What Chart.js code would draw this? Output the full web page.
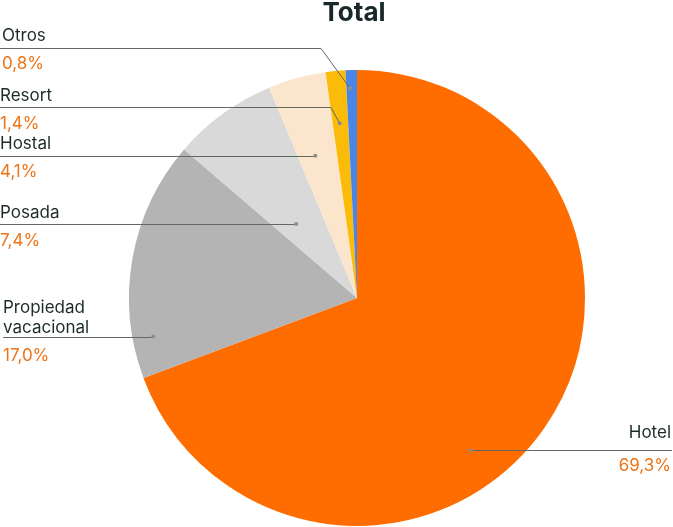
<!DOCTYPE html>
<html>
<head>
<meta charset="utf-8">
<script src="https://cdn.jsdelivr.net/npm/chart.js@4.4.1/dist/chart.umd.min.js"></script>
<style>
  html, body { margin: 0; padding: 0; background: #ffffff; }
  #wrap { width: 673px; height: 527px; position: relative; }
</style>
</head>
<body>
<div id="wrap"><canvas id="myChart" width="673" height="527"></canvas></div>
<script>
// chart data
var categories = ["Hotel", "Propiedad vacacional", "Posada", "Hostal", "Resort", "Otros"];
var values = [69.3, 17.0, 7.4, 4.1, 1.4, 0.8];
var sliceColors = ['#ff6d01', '#b4b4b4', '#d9d9d9', '#fce5cd', '#fbbc09', '#4a86e8'];

// where each leader line starts inside its slice (fraction along slice angle, fraction of radius)
// and where the text block sits
var callouts = [
  { t: 0.574, r: 0.835, lines: ["Hotel"], x: 671, y: 438, lineY: null, align: 'right' },
  { t: 0.16, r: 0.91, lines: ["Propiedad", "vacacional"], x: 3, y: 313, lineY: null, align: 'left' },
  { t: 0.37, r: 0.42, lines: ["Posada"], x: 0, y: 218, lineY: null, align: 'left' },
  { t: 0.43, r: 0.65, lines: ["Hostal"], x: 0, y: 149, lineY: null, align: 'left' },
  { t: 0.45, r: 0.77, lines: ["Resort"], x: 0, y: 101, lineY: 107, elbowX: 331, align: 'left' },
  { t: 0.35, r: 0.92, lines: ["Otros"], x: 2, y: 41, lineY: 48, elbowX: 321, align: 'left' }
];

function fmtPct(v) {
  return v.toFixed(1).replace('.', ',') + '%';
}

var calloutPlugin = {
  id: 'callouts',
  afterDraw: function(chart) {
    var c = chart.ctx;
    var arcs = chart.getDatasetMeta(0).data;
    // title
    c.save();
    c.font = 'bold 26px Inter, "DejaVu Sans", sans-serif';
    c.fillStyle = '#18282a';
    c.textAlign = 'center';
    c.textBaseline = 'alphabetic';
    c.fillText('Total', 354, 21);
    c.restore();

    for (var i = 0; i < arcs.length; i++) {
      var a = arcs[i];
      var co = callouts[i];
      var p = a.getProps(['x', 'y', 'startAngle', 'endAngle', 'outerRadius'], true);
      var ang = p.startAngle + (p.endAngle - p.startAngle) * co.t;
      var dx = p.x + Math.cos(ang) * p.outerRadius * co.r;
      var dy = p.y + Math.sin(ang) * p.outerRadius * co.r;

      c.save();
      c.strokeStyle = '#5f6b5c';
      c.lineWidth = 1;
      c.beginPath();
      if (co.lineY != null) {
        c.moveTo(0, co.lineY + 0.5);
        c.lineTo(co.elbowX, co.lineY + 0.5);
        c.lineTo(dx, dy);
      } else {
        var ly = Math.round(dy) + 0.5;
        if (co.align == 'right') {
          c.moveTo(dx, ly);
          c.lineTo(co.x + 1, ly);
        } else {
          c.moveTo(co.x, ly);
          c.lineTo(dx, ly);
        }
      }
      c.stroke();
      c.fillStyle = '#8d8d8d';
      c.beginPath();
      c.arc(dx, dy, 2, 0, Math.PI * 2);
      c.fill();

      // text
      c.textAlign = co.align;
      c.textBaseline = 'alphabetic';
      c.font = '17px Inter, "DejaVu Sans", sans-serif';
      c.fillStyle = '#1c2b27';
      for (var k = 0; k < co.lines.length; k++) {
        c.fillText(co.lines[k], co.x, co.y + k * 20);
      }
      c.fillStyle = '#ee7418';
      var py = co.y + (co.lines.length - 1) * 20 + 28;
      if (co.align == 'right') py = co.y + 33;
      c.fillText(fmtPct(values[i]), co.x, py);
      c.restore();
    }
  }
};

var ctx = document.getElementById("myChart");
var myPieChart = new Chart(ctx, {
  type: 'pie',
  data: {
    labels: categories,
    datasets: [
      {
        data: values,
        backgroundColor: sliceColors,
        borderWidth: 0
      }
    ]
  },
  options: {
    responsive: false,
    animation: false,
    layout: { padding: { top: 70, bottom: 1, left: 129, right: 88 } },
    plugins: {
      legend: { display: false },
      tooltip: { enabled: false }
    }
  },
  plugins: [calloutPlugin]
});
</script>
</body>
</html>
